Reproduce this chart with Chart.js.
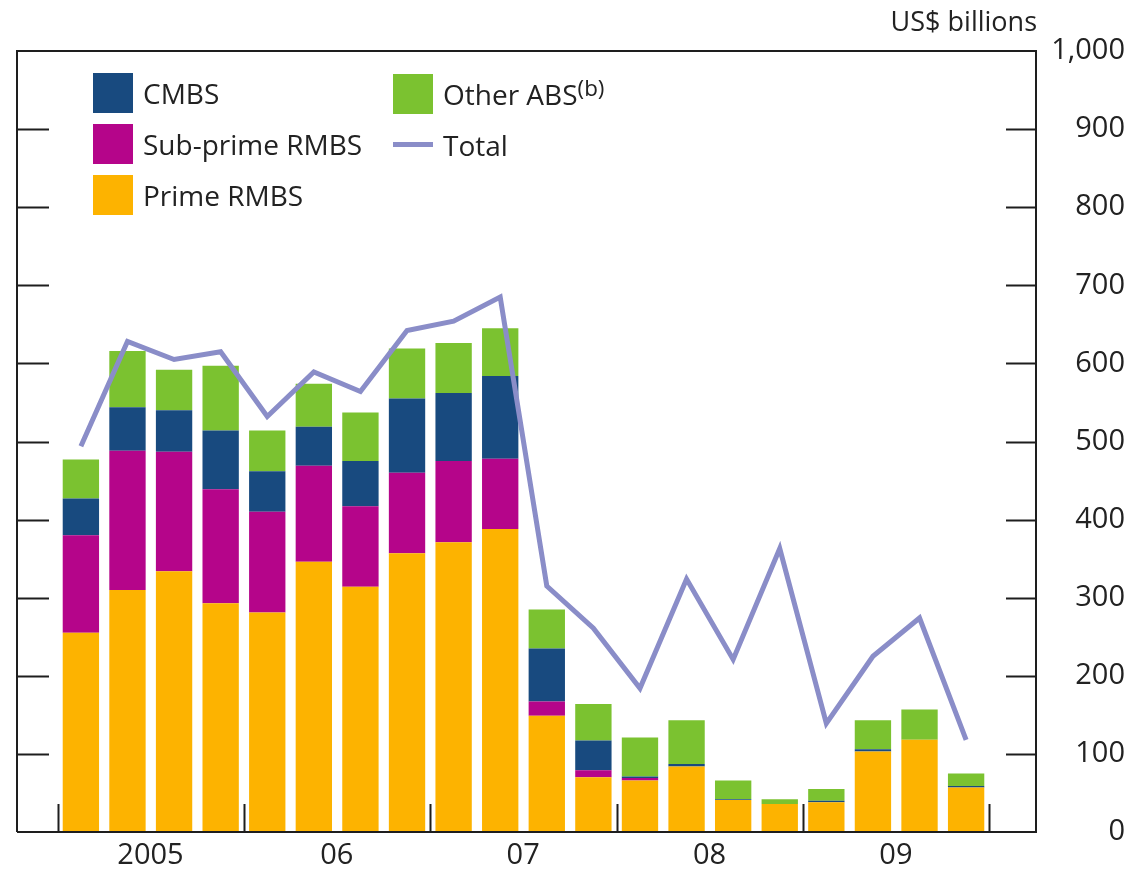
<!DOCTYPE html>
<html>
<head>
<meta charset="utf-8">
<script src="https://cdn.jsdelivr.net/npm/chart.js@4.4.1/dist/chart.umd.min.js"></script>
<style>
    html, body { margin: 0; padding: 0; background: #fff; }
    #wrap { position: relative; width: 1139px; height: 878px; }
    #legend {
        position: absolute; left: 93px; top: 67px;
        display: grid; grid-template-rows: repeat(3, 51px); grid-auto-flow: column;
        grid-template-columns: 300px auto;
        font-family: 'Open Sans', sans-serif; font-size: 28px; color: #222;
    }
    .item { display: flex; align-items: center; white-space: nowrap; }
    .col2 { transform: translateY(1px); }
    .swatch { width: 40px; height: 40px; margin-right: 10px; flex: none; }
    .lineswatch { width: 40px; height: 5px; margin-right: 10px; flex: none; }
    .item sup { font-size: 0.8em; line-height: 0; vertical-align: 0.4em; }
</style>
</head>
<body>
<div id="wrap">
    <canvas id="chart" width="1139" height="878"></canvas>
    <div id="legend"></div>
</div>
<script>
// Quarterly issuance, 2005 Q1 - 2009 Q4 (US$ billions)
const quarters = [
    '2005 Q1', '2005 Q2', '2005 Q3', '2005 Q4',
    '2006 Q1', '2006 Q2', '2006 Q3', '2006 Q4',
    '2007 Q1', '2007 Q2', '2007 Q3', '2007 Q4',
    '2008 Q1', '2008 Q2', '2008 Q3', '2008 Q4',
    '2009 Q1', '2009 Q2', '2009 Q3', '2009 Q4'
];
const yearLabels = ['2005', '06', '07', '08', '09'];

const primeRMBS    = [255, 310, 334, 293, 281, 346, 314, 357, 371, 388, 149, 70, 66, 84, 41, 36, 38, 103, 118, 57];
const subprimeRMBS = [125, 178, 153, 146, 129, 123, 103, 103, 104, 90, 18, 9, 3, 0, 0, 0, 0, 0, 0, 0];
const cmbs         = [47, 56, 53, 75, 52, 50, 58, 95, 87, 106, 68, 38, 2, 3, 1, 0, 2, 3, 0, 2];
const otherABS     = [50, 72, 52, 83, 52, 55, 62, 64, 64, 61, 50, 47, 50, 56, 24, 6, 15, 37, 39, 16];
const total        = [494, 628, 605, 615, 532, 589, 564, 642, 654, 685, 315, 261, 184, 324, 221, 363, 139, 225, 274, 118];

const yTicks = [0, 100, 200, 300, 400, 500, 600, 700, 800, 900, 1000];

const colors = {
    cmbs: '#184a7f',
    subprime: '#b5058a',
    prime: '#fdb300',
    other: '#7bc230',
    total: '#8a8dc8',
    axis: '#1e1e1e',
    text: '#222222'
};
const FONT = "'Open Sans', sans-serif";

// one empty slot either side of the 20 quarters
const pad = arr => [null, ...arr, null];
const labels = ['', ...quarters, ''];

// frame, inward ticks and unit label
const framePlugin = {
    id: 'frame',
    afterDatasetsDraw(chart) {
        const { ctx, chartArea, scales } = chart;
        const L = chartArea.left + 6;
        const R = chartArea.right;
        const T = chartArea.top;
        const B = chartArea.bottom;
        ctx.save();
        ctx.strokeStyle = colors.axis;
        ctx.lineWidth = 2;
        ctx.beginPath();
        ctx.moveTo(L, B); ctx.lineTo(L, T); ctx.lineTo(R, T); ctx.lineTo(R, B); ctx.lineTo(L, B);
        // y ticks on both sides
        yTicks.slice(1, -1).forEach(v => {
            const y = Math.round(scales.y.getPixelForValue(v)) + 0.5;
            ctx.moveTo(L, y); ctx.lineTo(L + 32, y);
            ctx.moveTo(R - 30, y); ctx.lineTo(R, y);
        });
        // year separators
        const x = scales.x;
        const slot = x.getPixelForValue(2) - x.getPixelForValue(1);
        for (let q = 0; q <= quarters.length; q += 4) {
            const px = Math.round(x.getPixelForValue(q + 1) - slot / 2) + 0.5;
            ctx.moveTo(px, B); ctx.lineTo(px, B - 28);
        }
        ctx.stroke();

        ctx.fillStyle = colors.text;
        ctx.font = '27px ' + FONT;
        ctx.textAlign = 'right';
        ctx.textBaseline = 'middle';
        ctx.fillText('US$ billions', R + 1, 23);
        ctx.restore();
    }
};

const ctx = document.getElementById('chart').getContext('2d');
const chart = new Chart(ctx, {
    data: {
        labels: labels,
        datasets: [
            { type: 'line', label: 'Total', data: pad(total), borderColor: colors.total, borderWidth: 5,
              pointRadius: 0, fill: false, tension: 0, stack: 'line', order: 0 },
            { type: 'bar', label: 'Prime RMBS', data: pad(primeRMBS), backgroundColor: colors.prime, stack: 'bars', order: 1 },
            { type: 'bar', label: 'Sub-prime RMBS', data: pad(subprimeRMBS), backgroundColor: colors.subprime, stack: 'bars', order: 1 },
            { type: 'bar', label: 'CMBS', data: pad(cmbs), backgroundColor: colors.cmbs, stack: 'bars', order: 1 },
            { type: 'bar', label: 'Other ABS', data: pad(otherABS), backgroundColor: colors.other, stack: 'bars', order: 1 }
        ]
    },
    options: {
        responsive: false,
        animation: false,
        layout: { padding: { top: 51, left: 11, right: 14, bottom: 0 } },
        datasets: { bar: { categoryPercentage: 1, barPercentage: 0.78 } },
        plugins: { legend: { display: false }, tooltip: { enabled: false } },
        scales: {
            x: {
                stacked: true,
                grid: { display: false, drawTicks: false },
                border: { display: false },
                afterFit: s => { s.height = 46; },
                ticks: {
                    autoSkip: false, maxRotation: 0, padding: 6, labelOffset: 23,
                    color: colors.text, font: { family: FONT, size: 29 },
                    callback: (val, i) => {
                        const q = i - 1;
                        return (q >= 0 && q < quarters.length && q % 4 === 1) ? yearLabels[Math.floor(q / 4)] : '';
                    }
                }
            },
            y: {
                stacked: true,
                position: 'right',
                min: 0, max: 1000,
                grid: { drawOnChartArea: false, drawTicks: false },
                border: { display: false },
                afterFit: s => { s.width = 89; },
                afterBuildTicks: s => { s.ticks = yTicks.map(v => ({ value: v })); },
                ticks: {
                    padding: 16, crossAlign: 'far',
                    color: colors.text, font: { family: FONT, size: 29 },
                    callback: v => v.toLocaleString('en-US')
                }
            }
        }
    },
    plugins: [framePlugin]
});

// HTML legend built from the datasets, two columns as in the original
function buildLegend(chart) {
    const byLabel = {};
    chart.data.datasets.forEach(d => { byLabel[d.label] = d; });
    const order = ['CMBS', 'Sub-prime RMBS', 'Prime RMBS', 'Other ABS', 'Total'];
    const box = document.getElementById('legend');
    box.innerHTML = '';
    order.forEach((name, i) => {
        const d = byLabel[name];
        const item = document.createElement('div');
        item.className = 'item' + (i >= 3 ? ' col2' : '');
        const sw = document.createElement('span');
        if (d.type === 'line') {
            sw.className = 'lineswatch';
            sw.style.background = d.borderColor;
        } else {
            sw.className = 'swatch';
            sw.style.background = d.backgroundColor;
        }
        const txt = document.createElement('span');
        txt.textContent = name;
        if (name === 'Other ABS') {
            const sup = document.createElement('sup');
            sup.textContent = '(b)';
            txt.appendChild(sup);
        }
        item.appendChild(sw);
        item.appendChild(txt);
        box.appendChild(item);
    });
}
buildLegend(chart);
</script>
</body>
</html>
